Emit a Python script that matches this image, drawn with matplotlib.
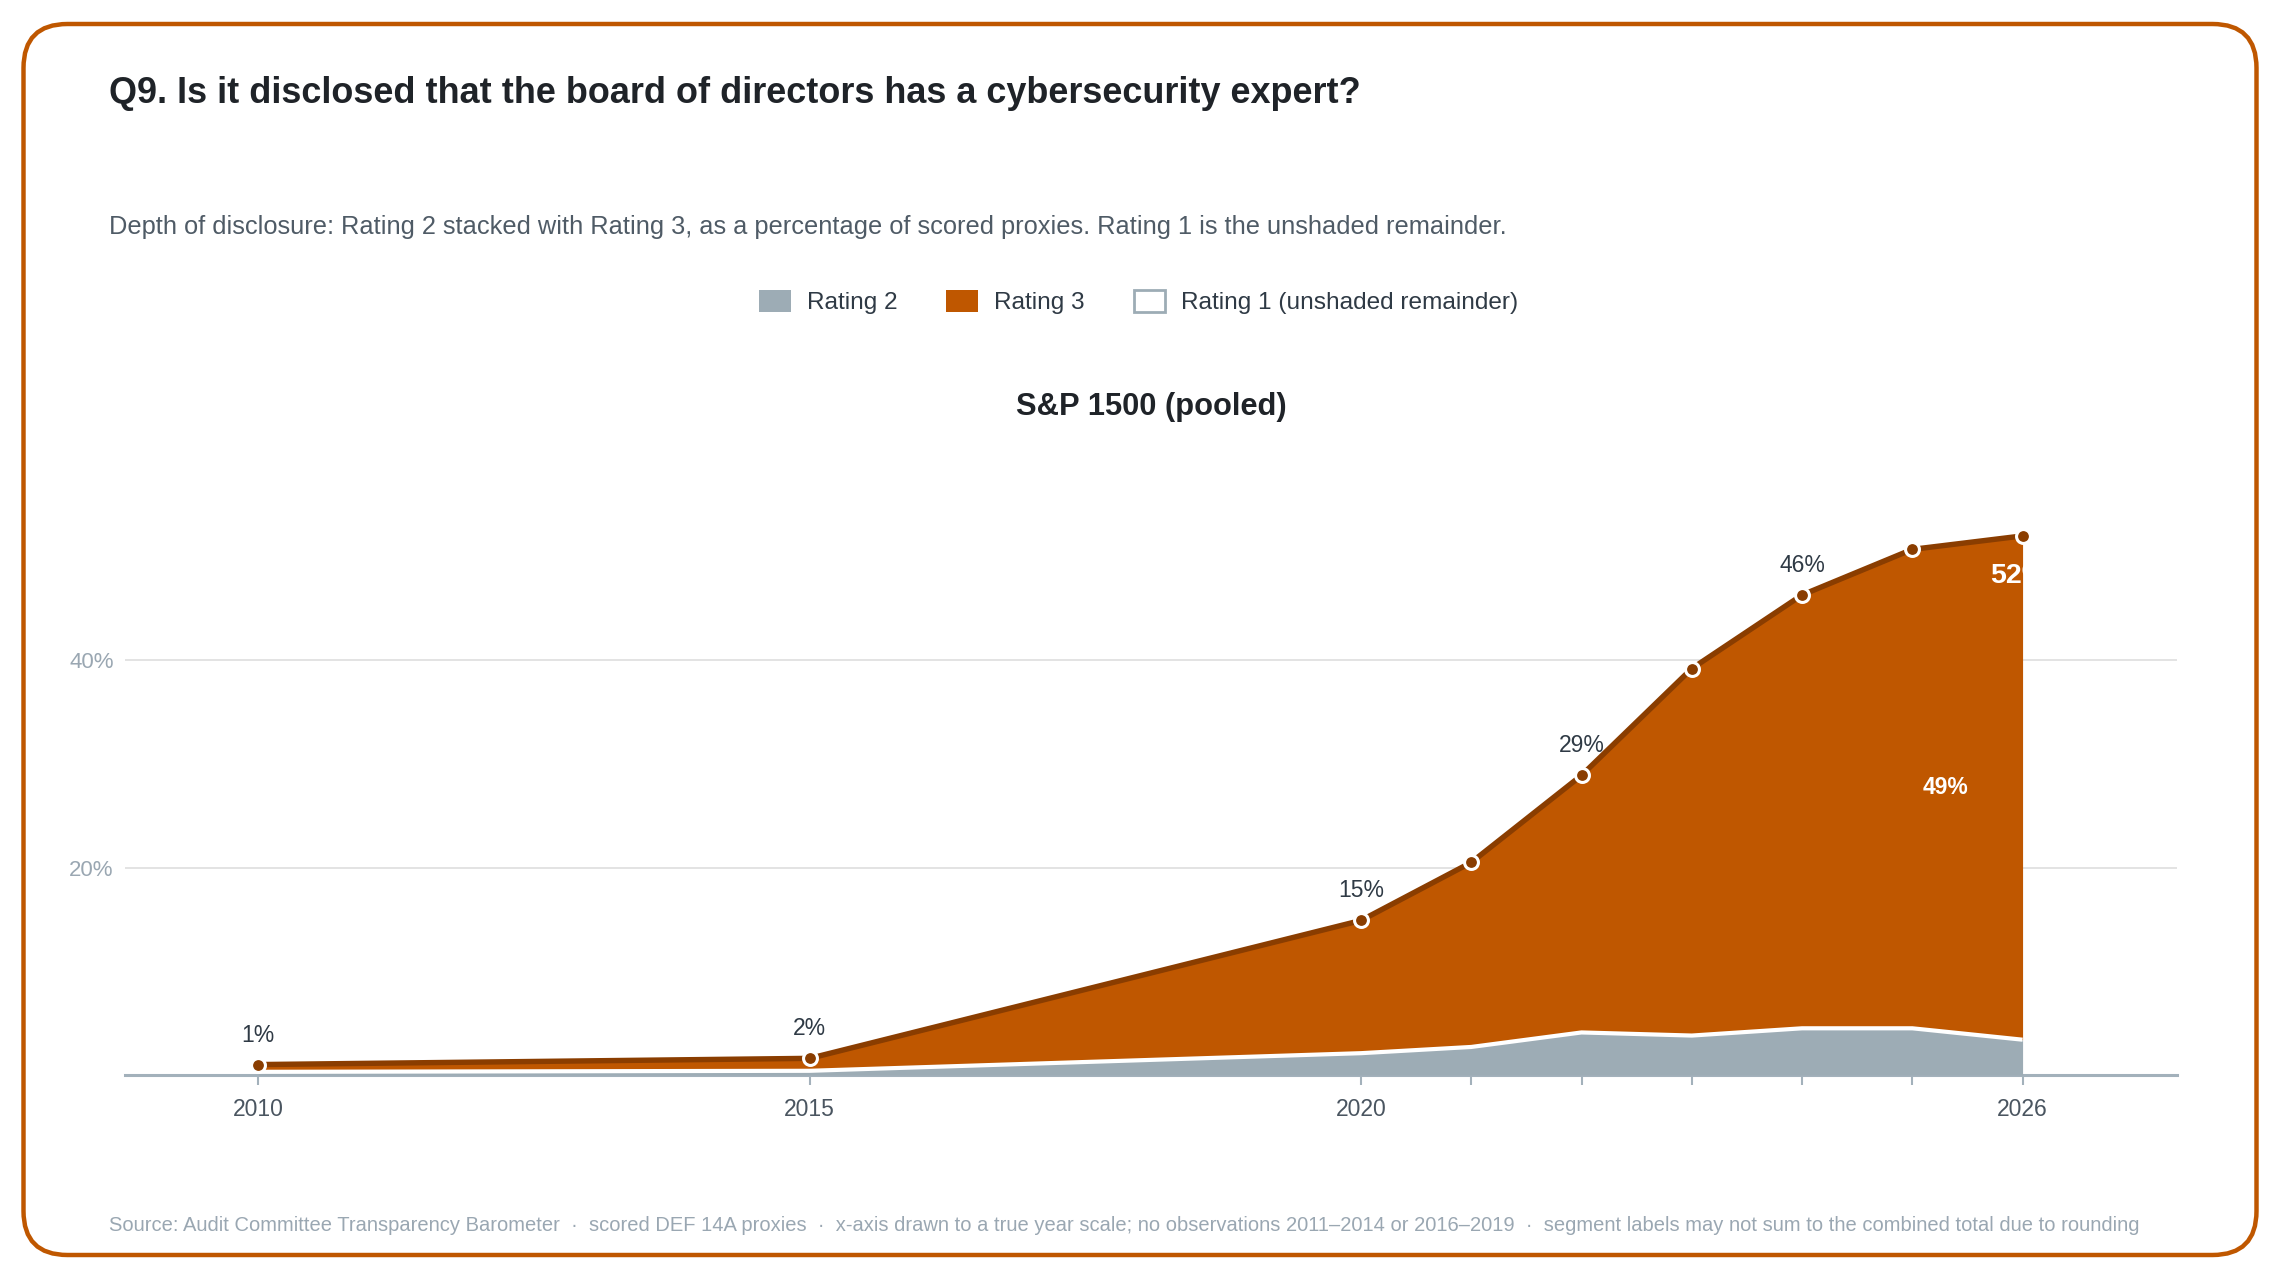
import numpy as np
import matplotlib
matplotlib.use("Agg")
import matplotlib.pyplot as plt
from matplotlib.patches import Patch, FancyBboxPatch

plt.rcParams['font.family'] = ['Liberation Sans', 'DejaVu Sans']

# data (percent of scored proxies)
years = [2010, 2015, 2020, 2021, 2022, 2023, 2024, 2025, 2026]
rating2 = [0.3, 0.4, 2.1, 2.7, 4.1, 3.8, 4.5, 4.5, 3.4]
rating3 = [0.7, 1.2, 12.8, 17.8, 24.8, 35.4, 41.8, 46.2, 48.6]
labeled_years = [2010, 2015, 2020, 2022, 2024]
tick_years = [2010, 2015, 2020, 2021, 2022, 2023, 2024, 2025, 2026]
tick_labels = ['2010', '2015', '2020', '', '', '', '', '', '2026']
y_ticks = [20, 40]
y_tick_labels = ['20%', '40%']

GREY = '#9DACB5'
ORANGE = '#BF5700'
DARK = '#8A3D00'
TEXT = '#1F2328'
SUB = '#4F5B66'
MUTED = '#9AA7B2'

r2 = np.array(rating2)
r3 = np.array(rating3)
total = r2 + r3

fig = plt.figure(figsize=(22.8, 12.8), dpi=100)

# rounded card border
border = FancyBboxPatch((0.235, 0.25), 22.33, 12.31,
                        boxstyle="round,pad=0,rounding_size=0.44",
                        transform=fig.dpi_scale_trans, facecolor='white',
                        edgecolor=ORANGE, linewidth=3.2, zorder=-5)
fig.patches.append(border)

ax = fig.add_axes([0.0548, 0.1602, 0.9, 0.4762])
ax.set_facecolor('none')

ax.fill_between(years, 0, r2, color=GREY, lw=0, zorder=2)
ax.fill_between(years, r2, total, color=ORANGE, lw=0, zorder=2)
ax.plot(years, r2, color='white', lw=3.0, zorder=3, solid_capstyle='butt')
ax.plot(years, total, color=DARK, lw=3.9, zorder=4, solid_capstyle='butt')
ax.plot(years, total, ls='none', marker='o', ms=10, mfc=DARK, mec='white',
        mew=2.2, zorder=5)

for yr, t in zip(years, total):
    if yr in labeled_years:
        ax.annotate(f"{t:.0f}%", (yr, t), xytext=(0, 13), textcoords='offset points',
                    ha='center', va='bottom', fontsize=16.5, color='#2F3A45', zorder=6)

# end-of-series labels
ax.annotate(f"{total[-1]:.0f}%", (years[-1], total[-1]), xytext=(-3, -29),
            textcoords='offset points', ha='center', va='center',
            fontsize=20.5, fontweight='bold', color='white', zorder=6)
ax.text(2025.3, (r2[-1] + total[-1]) / 2, f"{r3[-1]:.0f}%", ha='center', va='center',
        fontsize=16.5, fontweight='bold', color='white', zorder=6)

ax.set_xlim(2008.79, 2027.4)
ax.set_ylim(0, 58.8)
ax.set_xticks(tick_years)
ax.set_xticklabels(tick_labels)
ax.set_yticks(y_ticks)
ax.set_yticklabels(y_tick_labels)
ax.grid(axis='y', color='#E3E3E3', lw=1.4, zorder=1)
ax.set_axisbelow(True)
for s in ['top', 'right', 'left']:
    ax.spines[s].set_visible(False)
ax.spines['bottom'].set_color('#A3B1BB')
ax.spines['bottom'].set_linewidth(2.2)
ax.spines['bottom'].set_zorder(1)
ax.tick_params(axis='x', length=7, width=1.5, color='#A3B1BB', pad=9.5,
               labelsize=16.5, labelcolor='#4A5560')
ax.tick_params(axis='y', length=0, pad=8, labelsize=16, labelcolor=MUTED)

# text
fig.text(0.0478, 0.927, "Q9. Is it disclosed that the board of directors has a cybersecurity expert?",
         fontsize=25.9, fontweight='bold', color=TEXT, va='center', ha='left')
fig.text(0.0478, 0.8225, "Depth of disclosure: Rating 2 stacked with Rating 3, as a percentage of scored proxies. "
         "Rating 1 is the unshaded remainder.",
         fontsize=18.3, color=SUB, va='center', ha='left')
fig.text(0.505, 0.682, "S&P 1500 (pooled)", fontsize=22.2, fontweight='bold', color=TEXT,
         va='center', ha='center')
fig.text(0.0478, 0.0425,
         "Source: Audit Committee Transparency Barometer  \u00b7  scored DEF 14A proxies  \u00b7  "
         "x-axis drawn to a true year scale; no observations 2011\u20132014 or 2016\u20132019  \u00b7  "
         "segment labels may not sum to the combined total due to rounding",
         fontsize=14.5, color=MUTED, va='center', ha='left')

handles = [Patch(facecolor=GREY, edgecolor='none', label='Rating 2'),
           Patch(facecolor=ORANGE, edgecolor='none', label='Rating 3'),
           Patch(facecolor='white', edgecolor=GREY, linewidth=2, label='Rating 1 (unshaded remainder)')]
fig.legend(handles=handles, loc='center', bbox_to_anchor=(0.4995, 0.764), ncol=3,
           frameon=False, fontsize=17.6, handlelength=1.3, handleheight=1.0,
           handletextpad=0.65, columnspacing=2.0, labelcolor='#2F3A45')

fig.savefig('out.png', dpi=100, facecolor='white')
